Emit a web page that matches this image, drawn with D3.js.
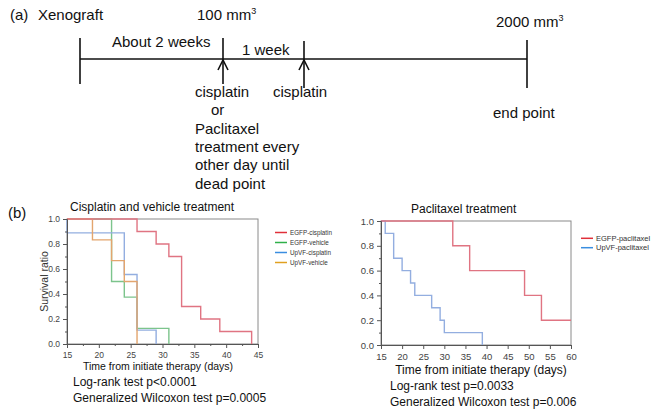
<!DOCTYPE html>
<html>
<head>
<meta charset="utf-8">
<script src="https://cdn.jsdelivr.net/npm/d3@7"></script>
<style>
  body { margin: 0; background: #fff; }
  svg { font-family: "Liberation Sans", Arial, sans-serif; }
</style>
</head>
<body>
<div id="chart"></div>
<script>
// Timeline events (days after xenograft)
const eventDays = [0, 14, 21, 50];
const eventTop = ["Xenograft", "100 mm", "", "2000 mm"];
const treatmentLines = ["cisplatin", "or", "Paclitaxel", "treatment every", "other day until", "dead point"];

// Kaplan-Meier: cisplatin and vehicle
const leftNames = ["EGFP-cisplatin", "EGFP-vehicle", "UpVF-cisplatin", "UpVF-vehicle"];
const egfpCisDays = [15, 26, 29, 31, 33, 36, 39, 44];
const egfpCisSurv = [1.0, 0.9, 0.8, 0.7, 0.3, 0.2, 0.1, 0.0];
const egfpVehDays = [15, 22, 24, 26, 31];
const egfpVehSurv = [1.0, 0.5, 0.375, 0.125, 0.0];
const upvfCisDays = [15, 15, 24, 26, 29];
const upvfCisSurv = [1.0, 0.889, 0.556, 0.111, 0.0];
const upvfVehDays = [15, 19, 22, 24, 26];
const upvfVehSurv = [1.0, 0.833, 0.667, 0.5, 0.0];

// Kaplan-Meier: paclitaxel
const rightNames = ["EGFP-paclitaxel", "UpVF-paclitaxel"];
const egfpPacDays = [15, 32, 36, 49, 53, 60];
const egfpPacSurv = [1.0, 0.8, 0.6, 0.4, 0.2, 0.2];
const upvfPacDays = [15, 16, 18, 20, 22, 23, 27, 29, 30, 39];
const upvfPacSurv = [1.0, 0.9, 0.7, 0.6, 0.5, 0.4, 0.3, 0.2, 0.1, 0.0];

const leftStats = ["Log-rank test p<0.0001", "Generalized Wilcoxon test p=0.0005"];
const rightStats = ["Log-rank test p=0.0033", "Generalized Wilcoxon test p=0.006"];

// curve colours (pale) and legend colours (strong), order: EGFP-cis, EGFP-veh, UpVF-cis, UpVF-veh
const curveColors = ["#e07482", "#7cc48c", "#93aee0", "#e3a56e"];
const legendColors = ["#e0303a", "#2fb04a", "#3a8ee0", "#e0a020"];

const width = 659, height = 409;
const svg = d3.select("#chart").append("svg")
    .attr("width", width)
    .attr("height", height);

// ---- (a) timeline ----
const tl = d3.scaleLinear().domain(eventDays).range([80, 223, 304, 527]);
const lineY = 59;
const g1 = svg.append("g").attr("stroke", "#111").attr("stroke-width", 1.6);

g1.append("line")
    .attr("x1", tl(0)).attr("x2", tl(50))
    .attr("y1", lineY).attr("y2", lineY);

g1.append("line").attr("x1", tl(0)).attr("x2", tl(0)).attr("y1", 38).attr("y2", 84);
g1.append("line").attr("x1", tl(14)).attr("x2", tl(14)).attr("y1", 38).attr("y2", 84);
g1.append("line").attr("x1", tl(21)).attr("x2", tl(21)).attr("y1", 41).attr("y2", 88);
g1.append("line").attr("x1", tl(50)).attr("x2", tl(50)).attr("y1", 40).attr("y2", 88);

// arrow heads
[14, 21].forEach(function(d) {
    g1.append("path")
        .attr("fill", "none")
        .attr("d", `M${tl(d) - 5},${lineY + 11}L${tl(d)},${lineY + 1}L${tl(d) + 5},${lineY + 11}`);
});

const txt = svg.append("g").attr("font-size", 15).attr("fill", "#111");
txt.append("text").attr("x", 10).attr("y", 20).text("(a)");
txt.append("text").attr("x", 38).attr("y", 20).text(eventTop[0]);

function mm(x, y, label) {
    const t = txt.append("text").attr("x", x).attr("y", y);
    t.append("tspan").text(label);
    t.append("tspan").attr("font-size", 9).attr("dy", -6).text("3");
}
mm(tl(14) - 26, 20, eventTop[1]);
mm(tl(50) - 31, 27, eventTop[3]);

txt.append("text").attr("x", 112).attr("y", 47).text("About 2 weeks");
txt.append("text").attr("x", 242).attr("y", 55).text("1 week");
txt.append("text").attr("x", tl(21) - 31).attr("y", 97).text("cisplatin");
txt.append("text").attr("x", tl(50) - 34).attr("y", 118).text("end point");

txt.selectAll(".treat")
    .data(treatmentLines)
    .enter()
    .append("text")
    .attr("class", "treat")
    .attr("x", function(d, i) { return i === 1 ? 211 : 195; })
    .attr("y", function(d, i) { return 97 + i * 18.3; })
    .text(function(d) { return d; });

txt.append("text").attr("x", 8).attr("y", 218).text("(b)");

// ---- (b) survival plots ----
function kmPanel(opt) {
    const x = d3.scaleLinear().domain(opt.xDomain).range(opt.xRange);
    const y = d3.scaleLinear().domain([0, 1]).range(opt.yRange);
    const g = svg.append("g");

    // frame
    g.append("rect")
        .attr("x", x.range()[0]).attr("y", y(1))
        .attr("width", x.range()[1] - x.range()[0])
        .attr("height", y(0) - y(1))
        .attr("fill", "none")
        .attr("stroke", "#8a8a8a")
        .attr("stroke-width", 1);

    const line = d3.line()
        .x(function(d) { return x(d[0]); })
        .y(function(d) { return y(d[1]); })
        .curve(d3.curveStepAfter);

    // draw in given order (last on top)
    opt.drawOrder.forEach(function(i) {
        const s = opt.series[i];
        g.append("path")
            .datum(d3.zip(s.days, s.surv))
            .attr("d", line)
            .attr("fill", "none")
            .attr("stroke", s.color)
            .attr("stroke-width", 1.4);
    });

    // y axis
    g.append("g")
        .attr("transform", `translate(${x.range()[0]},0)`)
        .call(d3.axisLeft(y).tickValues(d3.range(0, 1.01, 0.2)).tickFormat(d3.format(".1f")).tickSize(4));
    g.append("g")
        .attr("transform", `translate(${x.range()[0]},0)`)
        .call(d3.axisLeft(y).tickValues(d3.range(0.1, 1, 0.2)).tickFormat("").tickSize(2))
        .select(".domain").remove();

    // x axis
    const xAxis = g.append("g")
        .attr("transform", `translate(0,${y(0)})`)
        .call(d3.axisBottom(x).ticks(opt.xTicks).tickSize(4));
    if (opt.xMinor) {
        g.append("g")
            .attr("transform", `translate(0,${y(0)})`)
            .call(d3.axisBottom(x).tickValues(opt.xMinor).tickFormat("").tickSize(2))
            .select(".domain").remove();
    }

    g.selectAll(".domain").attr("stroke", "#555");
    g.selectAll(".tick line").attr("stroke", "#555");
    g.selectAll(".tick text")
        .attr("fill", "#444")
        .attr("font-size", opt.tickFont)
        .attr("font-family", "Liberation Sans, Arial, sans-serif");
    xAxis.selectAll(".tick text").attr("dy", "0.8em");

    // title and labels
    g.append("text")
        .attr("x", opt.titleX).attr("y", opt.titleY)
        .attr("font-size", 12).attr("fill", "#111")
        .text(opt.title);

    g.append("text")
        .attr("x", opt.xLabelX).attr("y", opt.xLabelY)
        .attr("text-anchor", "middle")
        .attr("font-size", opt.labelFont).attr("fill", "#111")
        .text("Time from initiate therapy (days)");

    if (opt.yLabel) {
        g.append("text")
            .attr("transform", `translate(${x.range()[0] - 19},${(y(0) + y(1)) / 2}) rotate(-90)`)
            .attr("text-anchor", "middle")
            .attr("font-size", 10.5).attr("fill", "#333")
            .text(opt.yLabel);
    }

    // legend
    const lg = g.selectAll(".lg")
        .data(opt.series)
        .enter()
        .append("g")
        .attr("transform", function(d, i) { return `translate(${opt.legendX},${opt.legendY + i * opt.legendStep})`; });
    lg.append("line")
        .attr("x1", 0).attr("x2", opt.legendLine)
        .attr("stroke", function(d) { return d.legend; })
        .attr("stroke-width", 1.5);
    lg.append("text")
        .attr("x", opt.legendLine + 3).attr("dy", "0.35em")
        .attr("font-size", opt.legendFont).attr("fill", "#333")
        .text(function(d) { return d.name; });

    // stats
    g.selectAll(".stat")
        .data(opt.stats)
        .enter()
        .append("text")
        .attr("x", opt.statX)
        .attr("y", function(d, i) { return opt.statY + i * 15.5; })
        .attr("font-size", 12).attr("fill", "#111")
        .text(function(d) { return d; });
}

kmPanel({
    xDomain: [15, 45], xRange: [67, 258], yRange: [344, 219],
    xTicks: 6, xMinor: d3.range(17.5, 45, 5), tickFont: 8.5, labelFont: 10.5,
    title: "Cisplatin and vehicle treatment", titleX: 70, titleY: 211,
    xLabelX: 158, xLabelY: 370, yLabel: "Survival ratio",
    series: [
        { name: leftNames[0], days: egfpCisDays, surv: egfpCisSurv, color: curveColors[0], legend: legendColors[0] },
        { name: leftNames[1], days: egfpVehDays, surv: egfpVehSurv, color: curveColors[1], legend: legendColors[1] },
        { name: leftNames[2], days: upvfCisDays, surv: upvfCisSurv, color: curveColors[2], legend: legendColors[2] },
        { name: leftNames[3], days: upvfVehDays, surv: upvfVehSurv, color: curveColors[3], legend: legendColors[3] }
    ],
    drawOrder: [1, 2, 3, 0],
    legendX: 275, legendY: 232.5, legendStep: 10, legendLine: 12, legendFont: 6.3,
    stats: leftStats, statX: 73, statY: 386
});

kmPanel({
    xDomain: [15, 60], xRange: [381, 571], yRange: [345, 221],
    xTicks: 9, xMinor: null, tickFont: 9.5, labelFont: 12,
    title: "Paclitaxel treatment", titleX: 411, titleY: 213,
    xLabelX: 481, xLabelY: 374, yLabel: null,
    series: [
        { name: rightNames[0], days: egfpPacDays, surv: egfpPacSurv, color: curveColors[0], legend: legendColors[0] },
        { name: rightNames[1], days: upvfPacDays, surv: upvfPacSurv, color: curveColors[2], legend: legendColors[2] }
    ],
    drawOrder: [1, 0],
    legendX: 581, legendY: 238.3, legendStep: 9.4, legendLine: 12, legendFont: 7.5,
    stats: rightStats, statX: 390, statY: 390
});
</script>
</body>
</html>
